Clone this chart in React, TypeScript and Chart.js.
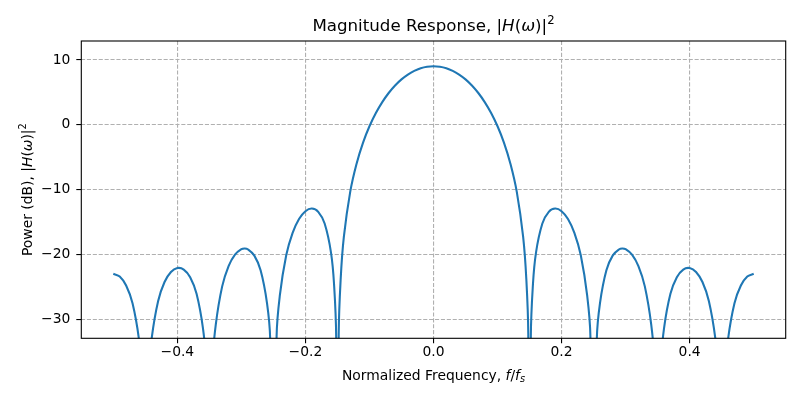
import React, { useEffect, useRef } from "react";
import { Chart, registerables } from "chart.js";

Chart.register(...registerables);

// Normalized frequency samples (f/fs)
const frequency = [
  -0.5, -0.49, -0.48, -0.47, -0.46, -0.455, -0.45, -0.445, -0.44, -0.43,
  -0.42, -0.41, -0.4, -0.39, -0.38, -0.37, -0.36, -0.355, -0.35, -0.345,
  -0.34, -0.33, -0.32, -0.31, -0.3, -0.295, -0.29, -0.28, -0.27, -0.26, -0.255,
  -0.25, -0.245, -0.24, -0.23, -0.22, -0.21, -0.2, -0.19, -0.18, -0.17,
  -0.16, -0.155, -0.152, -0.15, -0.148, -0.145, -0.14, -0.13, -0.12, -0.11,
  -0.1, -0.09, -0.08, -0.07, -0.06, -0.05, -0.04, -0.03, -0.02, -0.01,
  0,
  0.01, 0.02, 0.03, 0.04, 0.05, 0.06, 0.07, 0.08, 0.09, 0.1,
  0.11, 0.12, 0.13, 0.14, 0.145, 0.148, 0.15, 0.152, 0.155, 0.16,
  0.17, 0.18, 0.19, 0.2, 0.21, 0.22, 0.23, 0.24, 0.245, 0.25,
  0.255, 0.26, 0.27, 0.28, 0.29, 0.295, 0.3, 0.31, 0.32, 0.33, 0.34,
  0.345, 0.35, 0.355, 0.36, 0.37, 0.38, 0.39, 0.4, 0.41, 0.42,
  0.43, 0.44, 0.445, 0.45, 0.455, 0.46, 0.47, 0.48, 0.49, 0.5,
];

// Power in dB, |H(w)|^2 (values far below the axis are the nulls)
const powerDb = [
  -22.98, -23.41, -24.79, -27.52, -33.04, -38.92, -80, -38.83, -32.86, -27.16,
  -24.25, -22.7, -22.09, -22.33, -23.52, -26.07, -31.4, -37.17, -80, -36.89,
  -30.82, -24.92, -21.79, -20.02, -19.18, -19.08, -19.19, -20.14, -22.43, -27.5, -33.14,
  -80, -32.56, -26.35, -20.13, -16.67, -14.54, -13.33, -12.92, -13.42, -15.22,
  -19.74, -25.09, -32.66, -80, -32.18, -23.87, -17.3, -10.31, -5.95, -2.74,
  -0.22, 1.82, 3.51, 4.91, 6.07, 7.01, 7.75, 8.32, 8.72, 8.95,
  9.03,
  8.95, 8.72, 8.32, 7.75, 7.01, 6.07, 4.91, 3.51, 1.82, -0.22,
  -2.74, -5.95, -10.31, -17.3, -23.87, -32.18, -80, -32.66, -25.09, -19.74,
  -15.22, -13.42, -12.92, -13.33, -14.54, -16.67, -20.13, -26.35, -32.56, -80,
  -33.14, -27.5, -22.43, -20.14, -19.19, -19.08, -19.18, -20.02, -21.79, -24.92, -30.82,
  -36.89, -80, -37.17, -31.4, -26.07, -23.52, -22.33, -22.09, -22.7, -24.25,
  -27.16, -32.86, -38.83, -80, -38.92, -33.04, -27.52, -24.79, -23.41, -22.98,
];

const xTickValues = [-0.4, -0.2, 0, 0.2, 0.4];
const xTickLabels = ["\u22120.4", "\u22120.2", "0.0", "0.2", "0.4"];
const yTickValues = [10, 0, -10, -20, -30];
const yTickLabels = ["10", "0", "\u221210", "\u221220", "\u221230"];

const FONT = '"DejaVu Sans", sans-serif';

type Seg = { t: string; it?: boolean; sup?: boolean; sub?: boolean };

const titleSegs: Seg[] = [
  { t: "Magnitude Response, |" },
  { t: "H", it: true },
  { t: "(" },
  { t: "\u03c9", it: true },
  { t: ")|" },
  { t: "2", sup: true },
];
const xLabelSegs: Seg[] = [
  { t: "Normalized Frequency, " },
  { t: "f", it: true },
  { t: "/" },
  { t: "f", it: true },
  { t: "s", it: true, sub: true },
];
const yLabelSegs: Seg[] = [
  { t: "Power (dB), |" },
  { t: "H", it: true },
  { t: "(" },
  { t: "\u03c9", it: true },
  { t: ")|" },
  { t: "2", sup: true },
];

function segFont(s: Seg, size: number) {
  const sz = s.sup || s.sub ? size * 0.7 : size;
  return `${s.it ? "italic " : ""}${sz}px ${FONT}`;
}

function drawRich(ctx: CanvasRenderingContext2D, segs: Seg[], size: number, cx: number, baseline: number) {
  ctx.save();
  ctx.textAlign = "left";
  ctx.textBaseline = "alphabetic";
  ctx.fillStyle = "#000";
  let total = 0;
  const widths = segs.map((s) => {
    ctx.font = segFont(s, size);
    const w = ctx.measureText(s.t).width;
    total += w;
    return w;
  });
  let x = cx - total / 2;
  segs.forEach((s, i) => {
    ctx.font = segFont(s, size);
    let y = baseline;
    if (s.sup) y -= size * 0.44;
    if (s.sub) y += size * 0.2;
    ctx.fillText(s.t, x, y);
    x += widths[i];
  });
  ctx.restore();
}

const decorPlugin = {
  id: "decor",
  beforeDraw(chart: any) {
    const ctx = chart.ctx as CanvasRenderingContext2D;
    ctx.save();
    ctx.fillStyle = "#fff";
    ctx.fillRect(0, 0, chart.width, chart.height);
    ctx.restore();
  },
  afterDraw(chart: any) {
    const ctx = chart.ctx as CanvasRenderingContext2D;
    const a = chart.chartArea;
    ctx.save();
    ctx.strokeStyle = "#000";
    ctx.lineWidth = 1.1;
    ctx.strokeRect(a.left, a.top, a.right - a.left, a.bottom - a.top);
    ctx.restore();
    const cx = (a.left + a.right) / 2;
    drawRich(ctx, titleSegs, 16.67, cx, 31);
    drawRich(ctx, xLabelSegs, 13.89, cx, 379.5);
    ctx.save();
    ctx.translate(32, (a.top + a.bottom) / 2);
    ctx.rotate(-Math.PI / 2);
    drawRich(ctx, yLabelSegs, 13.89, 0, 0);
    ctx.restore();
  },
};

export default function App() {
  const canvasRef = useRef<HTMLCanvasElement | null>(null);

  useEffect(() => {
    if (!canvasRef.current) return;
    const points = frequency.map((f, i) => ({ x: f, y: powerDb[i] }));
    const gridCommon = {
      color: "#b0b0b0",
      lineWidth: 1.1,
      drawTicks: true,
      tickLength: 5,
      tickColor: "#000",
      tickWidth: 1.1,
    };
    const chart = new Chart(canvasRef.current, {
      type: "line",
      data: {
        datasets: [
          {
            data: points,
            borderColor: "#1f77b4",
            borderWidth: 2.08,
            pointRadius: 0,
            fill: false,
            tension: 0.4,
            clip: 0,
          } as any,
        ],
      },
      options: {
        animation: false,
        responsive: false,
        events: [],
        elements: { line: { capBezierPoints: false } },
        layout: { padding: { top: 41, right: 14.3, bottom: 0, left: 0 } },
        plugins: {
          legend: { display: false },
          tooltip: { enabled: false },
          title: { display: false },
        },
        scales: {
          x: {
            type: "linear",
            min: -0.55,
            max: 0.55,
            afterBuildTicks: (scale: any) => {
              scale.ticks = xTickValues.map((v) => ({ value: v }));
            },
            afterFit: (scale: any) => {
              scale.height = 61.7;
            },
            grid: gridCommon,
            border: { display: false, dash: [4.1, 1.8] },
            ticks: {
              autoSkip: false,
              maxRotation: 0,
              padding: 1,
              color: "#000",
              font: { family: FONT, size: 13.89 },
              callback: (_v: any, i: number) => xTickLabels[i],
            },
            title: { display: false },
          },
          y: {
            type: "linear",
            min: -32.93,
            max: 12.93,
            afterBuildTicks: (scale: any) => {
              scale.ticks = yTickValues.map((v) => ({ value: v }));
            },
            afterFit: (scale: any) => {
              scale.width = 81.3;
            },
            grid: gridCommon,
            border: { display: false, dash: [4.1, 1.8] },
            ticks: {
              autoSkip: false,
              padding: 6,
              color: "#000",
              font: { family: FONT, size: 13.89 },
              callback: (_v: any, i: number) => yTickLabels[i],
            },
            title: { display: false },
          },
        },
      } as any,
      plugins: [decorPlugin],
    });
    return () => chart.destroy();
  }, []);

  return (
    <div style={{ position: "absolute", left: 0, top: 0, width: 800, height: 400 }}>
      <canvas ref={canvasRef} width={800} height={400} />
    </div>
  );
}
